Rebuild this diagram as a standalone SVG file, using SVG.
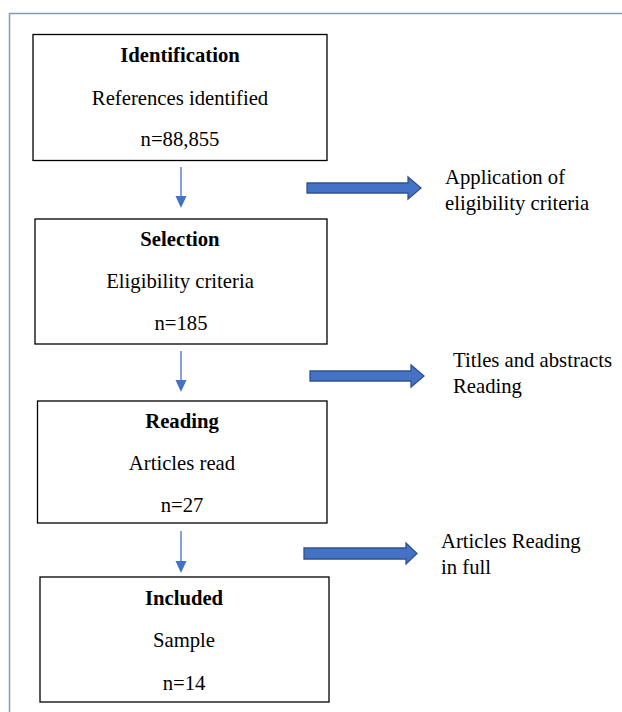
<svg xmlns="http://www.w3.org/2000/svg" width="622" height="712" viewBox="0 0 622 712">
<defs>
<style>
.box{fill:#fff;stroke:#000;stroke-width:1.3}
.t{font-family:"Liberation Serif","Times New Roman",serif;font-size:20.7px;fill:#000}
.c{text-anchor:middle}
.b{font-weight:bold}
.thin{stroke:#4472C4;stroke-width:1.3;fill:none}
.head{fill:#4472C4}
.blk{fill:#4472C4;stroke:#2F528F;stroke-width:1.3}
</style>
</defs>
<rect width="622" height="712" fill="#fff"/>
<path d="M9.5 712 V13.5 H622" fill="none" stroke="#7F9DBA" stroke-width="1.5"/>
<g id="identification">
<rect class="box" x="33" y="34.5" width="294" height="126"/>
<text class="t c b" x="180" y="62">Identification</text>
<text class="t c" x="180" y="105">References identified</text>
<text class="t c" x="180" y="146">n=88,855</text>
</g>
<g id="selection">
<rect class="box" x="35" y="219" width="292" height="125"/>
<text class="t c b" x="180" y="246">Selection</text>
<text class="t c" x="180" y="288">Eligibility criteria</text>
<text class="t c" x="181" y="330">n=185</text>
</g>
<g id="reading">
<rect class="box" x="37.5" y="401" width="289.5" height="122"/>
<text class="t c b" x="182" y="428">Reading</text>
<text class="t c" x="182" y="470">Articles read</text>
<text class="t c" x="182" y="512">n=27</text>
</g>
<g id="included">
<rect class="box" x="40" y="577" width="289" height="125"/>
<text class="t c b" x="184" y="605">Included</text>
<text class="t c" x="184" y="647">Sample</text>
<text class="t c" x="184" y="690">n=14</text>
</g>
<g id="note1">
<text class="t" x="445" y="184">Application of</text>
<text class="t" x="445" y="210">eligibility criteria</text>
</g>
<g id="note2">
<text class="t" x="453" y="367">Titles and abstracts</text>
<text class="t" x="453" y="393">Reading</text>
</g>
<g id="note3">
<text class="t" x="441" y="548">Articles Reading</text>
<text class="t" x="441" y="574">in full</text>
</g>
<g id="connectors">
<line class="thin" x1="181" y1="167" x2="181" y2="198"/>
<polygon class="head" points="175.5,196 186.5,196 181,208"/>
<line class="thin" x1="181" y1="351" x2="181" y2="382"/>
<polygon class="head" points="175.5,380 186.5,380 181,392"/>
<line class="thin" x1="181" y1="531" x2="181" y2="563"/>
<polygon class="head" points="175.5,561 186.5,561 181,573"/>
<polygon class="blk" points="307,183 408,183 408,177 421,188 408,199 408,193 307,193"/>
<polygon class="blk" points="310,371 411,371 411,365 424,376 411,387 411,381 310,381"/>
<polygon class="blk" points="304,548 406,548 406,543 417,553.5 406,564 406,559 304,559"/>
</g>
</svg>
